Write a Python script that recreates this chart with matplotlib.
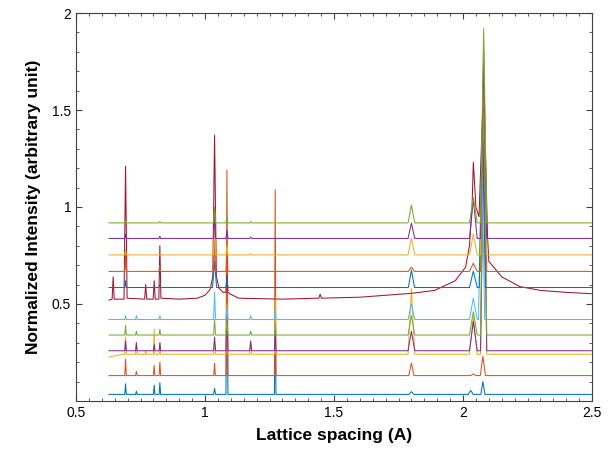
import matplotlib
matplotlib.use('Agg')
import matplotlib.pyplot as plt
from matplotlib.ticker import MultipleLocator

# domyslna paleta MATLAB
colors = ['#0072BD', '#D95319', '#EDB120', '#7E2F8E', '#77AC30', '#4DBEEE', '#A2142F']

x_start = 0.628
x_end = 2.5

# poziom bazowy kazdej krzywej (od dolu)
baselines = [0.034, 0.131, 0.241, 0.259, 0.340, 0.420, None,
             0.585, 0.668, 0.753, 0.838, 0.918]
# poziom na lewym brzegu (krzywa 3 zaczyna troche nizej)
start_levels = [0.034, 0.131, 0.226, 0.259, 0.340, 0.420, None,
                0.585, 0.668, 0.753, 0.838, 0.918]

# piki: (polozenie, wierzcholek, polszerokosc)
peaks = [
    [(0.692, 0.088, 0.003), (0.734, 0.050, 0.003), (0.803, 0.082, 0.003), (0.825, 0.094, 0.003),
     (1.037, 0.065, 0.004), (1.085, 0.55, 0.004), (1.272, 0.45, 0.003),
     (1.80, 0.048, 0.01), (2.03, 0.054, 0.01), (2.077, 0.10, 0.008)],
    [(0.692, 0.216, 0.003), (0.734, 0.153, 0.003), (0.803, 0.184, 0.003), (0.825, 0.200, 0.003),
     (1.037, 0.196, 0.003), (1.085, 1.19, 0.004), (1.272, 1.09, 0.003),
     (1.80, 0.196, 0.01), (2.04, 0.14, 0.01), (2.077, 0.23, 0.01)],
    [(0.692, 0.33, 0.003), (0.734, 0.30, 0.003), (0.770, 0.26, 0.003), (0.803, 0.37, 0.003),
     (0.825, 0.30, 0.003), (1.037, 0.30, 0.004), (1.085, 0.50, 0.004), (1.177, 0.29, 0.004),
     (1.272, 0.535, 0.003), (1.80, 0.58, 0.013), (2.04, 0.43, 0.015), (2.08, 1.75, 0.012)],
    [(0.692, 0.31, 0.003), (0.734, 0.30, 0.003), (0.803, 0.29, 0.003), (0.825, 0.30, 0.003),
     (1.037, 0.33, 0.004), (1.085, 0.45, 0.004), (1.177, 0.31, 0.004), (1.272, 0.37, 0.003),
     (1.80, 0.36, 0.013), (2.04, 0.41, 0.015), (2.08, 1.35, 0.012)],
    [(0.692, 0.39, 0.003), (0.734, 0.36, 0.003), (0.825, 0.37, 0.003), (1.037, 0.42, 0.004),
     (1.085, 0.42, 0.004), (1.177, 0.36, 0.004), (1.272, 0.40, 0.003),
     (1.80, 0.44, 0.013), (2.04, 0.46, 0.015), (2.08, 1.60, 0.012)],
    [(0.692, 0.44, 0.003), (0.734, 0.44, 0.003), (0.825, 0.44, 0.003), (1.037, 0.56, 0.004),
     (1.085, 0.48, 0.004), (1.177, 0.44, 0.004), (1.272, 0.46, 0.003),
     (1.80, 0.50, 0.013), (2.04, 0.53, 0.015), (2.072, 1.30, 0.012)],
    None,
    [(0.692, 0.62, 0.003), (0.825, 0.60, 0.003), (1.037, 0.72, 0.008), (1.085, 0.63, 0.004),
     (1.80, 0.675, 0.012), (2.04, 0.67, 0.015), (2.075, 1.40, 0.012)],
    [(0.692, 0.76, 0.003), (0.825, 0.70, 0.003), (1.037, 0.85, 0.004), (1.085, 0.80, 0.004),
     (1.80, 0.69, 0.012), (2.04, 0.71, 0.015), (2.08, 1.70, 0.012)],
    [(0.692, 0.78, 0.003), (1.037, 0.90, 0.004), (1.085, 0.80, 0.004), (1.177, 0.76, 0.004),
     (1.80, 0.84, 0.013), (2.04, 0.86, 0.015), (2.08, 1.85, 0.012)],
    [(0.692, 0.86, 0.003), (0.825, 0.85, 0.003), (1.037, 0.95, 0.004), (1.085, 0.88, 0.004),
     (1.177, 0.845, 0.004), (1.80, 0.917, 0.013), (2.04, 1.04, 0.015), (2.08, 1.80, 0.012)],
    [(0.692, 0.93, 0.003), (0.825, 0.925, 0.003), (1.037, 1.00, 0.004), (1.085, 0.95, 0.004),
     (1.177, 0.925, 0.004), (1.80, 1.01, 0.013), (2.04, 1.05, 0.015), (2.08, 1.92, 0.012)],
]

# krzywa 7 (ciemnoczerwona) z szerokim tlem, odczytana punkt po punkcie
darkred_x = [0.628, 0.640, 0.644, 0.648, 0.686, 0.692, 0.698, 0.766, 0.770, 0.774,
             0.799, 0.803, 0.807, 0.821, 0.825, 0.829, 0.90, 0.97, 1.00, 1.02,
             1.030, 1.037, 1.044, 1.055, 1.07, 1.081, 1.085, 1.089, 1.10, 1.13,
             1.30, 1.441, 1.446, 1.451, 1.60, 1.70, 1.80, 1.89, 1.97, 2.01,
             2.025, 2.035, 2.040, 2.050, 2.062, 2.080, 2.095, 2.10, 2.15, 2.22,
             2.30, 2.40, 2.50]
darkred_y = [0.52, 0.525, 0.64, 0.525, 0.525, 1.21, 0.53, 0.525, 0.60, 0.525,
             0.525, 0.62, 0.525, 0.525, 0.80, 0.53, 0.525, 0.53, 0.545, 0.575,
             0.64, 1.37, 0.64, 0.58, 0.56, 0.56, 0.65, 0.56, 0.55, 0.53,
             0.525, 0.53, 0.55, 0.53, 0.535, 0.545, 0.555, 0.57, 0.62, 0.69,
             0.80, 1.00, 1.23, 1.00, 0.95, 1.65, 0.85, 0.72, 0.64, 0.59,
             0.57, 0.56, 0.553]

x_ticks = [0.5, 1, 1.5, 2, 2.5]
x_tick_labels = ['0.5', '1', '1.5', '2', '2.5']
y_ticks = [0.5, 1, 1.5, 2]
y_tick_labels = ['0.5', '1', '1.5', '2']

plt.rcParams['font.family'] = ['Liberation Sans', 'DejaVu Sans']

fig = plt.figure(figsize=(6.14, 4.5), dpi=100)
ax = fig.add_axes([0.1238, 0.1089, 0.8404, 0.8622])

for i in range(len(baselines)):
    kolor = colors[i % len(colors)]
    if peaks[i] is None:
        ax.plot(darkred_x, darkred_y, color=kolor, linewidth=0.75)
        continue
    b = baselines[i]
    xs = [x_start]
    ys = [start_levels[i]]
    if start_levels[i] != b:
        xs.append(0.68)
        ys.append(b)
    for (p, top, w) in peaks[i]:
        xs += [p - w, p, p + w]
        ys += [b, top, b]
    xs.append(x_end)
    ys.append(b)
    ax.plot(xs, ys, color=kolor, linewidth=0.75)

ax.set_xlim(0.5, 2.5)
ax.set_ylim(0, 2)
ax.set_xticks(x_ticks, labels=x_tick_labels)
ax.set_yticks(y_ticks, labels=y_tick_labels)
ax.xaxis.set_minor_locator(MultipleLocator(0.05))
ax.yaxis.set_minor_locator(MultipleLocator(0.1))
ax.tick_params(which='both', direction='in', top=True, right=True,
               colors='#404040', labelcolor='black', labelsize=10)
ax.tick_params(which='major', length=4, width=0.8)
ax.tick_params(which='minor', length=2.2, width=0.6)
for s in ax.spines.values():
    s.set_color('#404040')
    s.set_linewidth(0.8)

ax.set_xlabel('Lattice spacing (A)', fontsize=12.5, fontweight='bold', labelpad=6)
ax.set_ylabel('Normalized Intensity (arbitrary unit)', fontsize=12.5, fontweight='bold', labelpad=8)

fig.savefig('out.png', dpi=100)
